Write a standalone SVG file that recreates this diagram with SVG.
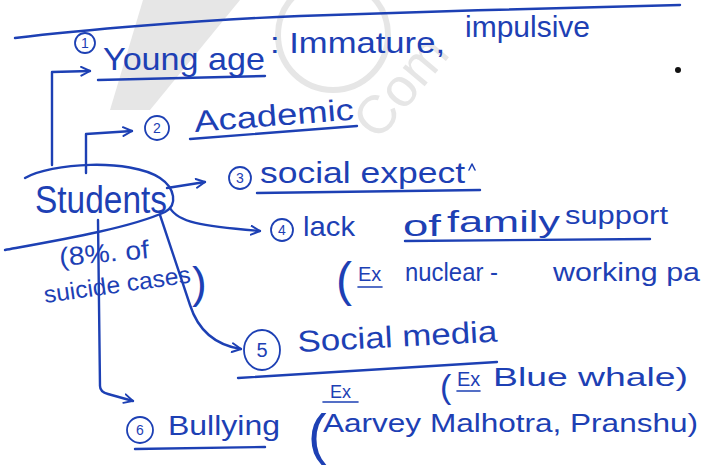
<svg xmlns="http://www.w3.org/2000/svg" width="703" height="466" viewBox="0 0 703 466">
<style>
.ink{fill:none;stroke:#1d40b4;stroke-width:2.4;stroke-linecap:round;stroke-linejoin:round}
.t{font-family:"Liberation Sans",Arial,sans-serif;fill:#1d40b4;font-size:28px}
.n{font-family:"Liberation Sans",Arial,sans-serif;fill:#1d40b4;font-size:14px;text-anchor:middle}
.wm{fill:#e6e6e6}
.wms{fill:none;stroke:#e6e6e6;stroke-width:6}
</style>
<defs>
<marker id="ah" viewBox="0 0 10 10" refX="9" refY="5" markerWidth="11" markerHeight="11" markerUnits="userSpaceOnUse" orient="auto">
<path d="M1,1 L9,5 L1,9" fill="none" stroke="#1d40b4" stroke-width="1.8" stroke-linecap="round"/>
</marker>
</defs>
<rect width="703" height="466" fill="#ffffff"/>
<g id="watermark">
<polygon class="wm" points="143,0 240,0 150,110 110,110"/>
<circle class="wms" cx="333" cy="35" r="55"/>
<text x="378" y="142" transform="rotate(-50 378 142)" style="font-family:'Liberation Sans',Arial,sans-serif;font-size:54px;fill:#e6e6e6">Com</text>
</g>
<g id="top-line">
<path class="ink" d="M15,38 C80,30 200,20 300,16 S600,7 680,5"/>
<circle cx="678" cy="70" r="3" fill="#111"/>
</g>
<g id="connectors">
<path class="ink" d="M52,165 L52,72 L90,71" marker-end="url(#ah)"/>
<path class="ink" d="M86,173 L86,134 L132,131" marker-end="url(#ah)"/>
<path class="ink" d="M167,188 L205,182" marker-end="url(#ah)"/>
<path class="ink" d="M170,208 C178,222 200,226 260,231" marker-end="url(#ah)"/>
<path class="ink" d="M160,215 L190,305 C198,330 215,345 241,349" marker-end="url(#ah)"/>
<path class="ink" d="M98,220 L100,386 Q100,392 108,394 L133,401" marker-end="url(#ah)"/>
</g>
<g id="students">
<path class="ink" d="M25,178 C50,163 130,158 160,178 C175,188 178,205 165,212 C130,228 60,240 5,250"/>
<text class="t" x="35" y="213" style="font-size:38px" textLength="132" lengthAdjust="spacingAndGlyphs">Students</text>
<text class="t" x="60" y="266" transform="rotate(-5 60 266)" style="font-size:26px" textLength="90" lengthAdjust="spacingAndGlyphs">(8%. of</text>
<text class="t" x="45" y="303" transform="rotate(-8 45 303)" style="font-size:24px" textLength="148" lengthAdjust="spacingAndGlyphs">suicide cases</text>
<text class="t" x="192" y="298" style="font-size:44px">)</text>
</g>
<g id="n1">
<circle class="ink" cx="85" cy="43" r="10" style="stroke-width:1.8"/>
<text class="n" x="85" y="48">1</text>
<text class="t" x="103" y="70" style="font-size:32px" textLength="162" lengthAdjust="spacingAndGlyphs">Young age</text>
<path class="ink" d="M98,80 L265,76"/>
<text class="t" x="270" y="53" style="font-size:30px" textLength="175" lengthAdjust="spacingAndGlyphs">: Immature,</text>
<text class="t" x="465" y="37" style="font-size:30px" textLength="125" lengthAdjust="spacingAndGlyphs">impulsive</text>
</g>
<g id="n2">
<circle class="ink" cx="157" cy="128" r="12" style="stroke-width:1.8"/>
<text class="n" x="157" y="133">2</text>
<text class="t" x="195" y="132" transform="rotate(-4.5 195 132)" style="font-size:30px" textLength="160" lengthAdjust="spacingAndGlyphs">Academic</text>
<path class="ink" d="M190,139 L357,126"/>
</g>
<g id="n3">
<circle class="ink" cx="240" cy="178" r="11" style="stroke-width:1.8"/>
<text class="n" x="240" y="183">3</text>
<text class="t" x="260" y="183" style="font-size:30px" textLength="205" lengthAdjust="spacingAndGlyphs">social expect</text>
<path class="ink" d="M469,170 L472,164 L475,170" style="stroke-width:1.6"/>
<path class="ink" d="M257,193 L480,190"/>
</g>
<g id="n4">
<circle class="ink" cx="282" cy="230" r="11" style="stroke-width:1.8"/>
<text class="n" x="282" y="235">4</text>
<text class="t" x="303" y="236" style="font-size:28px" textLength="52" lengthAdjust="spacingAndGlyphs">lack</text>
<text class="t" x="403" y="236" style="font-size:30px" textLength="38" lengthAdjust="spacingAndGlyphs">of</text>
<text class="t" x="447" y="232" style="font-size:30px" textLength="113" lengthAdjust="spacingAndGlyphs">family</text>
<text class="t" x="565" y="224" style="font-size:26px" textLength="103" lengthAdjust="spacingAndGlyphs">support</text>
<path class="ink" d="M405,241 L650,239"/>
<text class="t" x="336" y="296" style="font-size:48px">(</text>
<text class="t" x="358" y="281" style="font-size:20px">Ex</text>
<path class="ink" d="M358,287 L382,287" style="stroke-width:1.6"/>
<text class="t" x="405" y="281" style="font-size:26px" textLength="93" lengthAdjust="spacingAndGlyphs">nuclear -</text>
<text class="t" x="553" y="281" style="font-size:26px" textLength="147" lengthAdjust="spacingAndGlyphs">working pa</text>
</g>
<g id="n5">
<ellipse class="ink" cx="262" cy="350" rx="18" ry="20" style="stroke-width:1.8"/>
<text class="n" x="262" y="357" style="font-size:20px">5</text>
<text class="t" x="298" y="352" transform="rotate(-3 298 352)" style="font-size:30px" textLength="200" lengthAdjust="spacingAndGlyphs">Social media</text>
<path class="ink" d="M238,378 L497,362"/>
<text class="t" x="440" y="398" style="font-size:34px">(</text>
<text class="t" x="457" y="386" style="font-size:20px">Ex</text>
<path class="ink" d="M457,391 L480,391" style="stroke-width:1.6"/>
<text class="t" x="493" y="386" style="font-size:26px" textLength="195" lengthAdjust="spacingAndGlyphs">Blue whale)</text>
</g>
<g id="n6">
<circle class="ink" cx="140" cy="430" r="13" style="stroke-width:1.8"/>
<text class="n" x="140" y="435">6</text>
<text class="t" x="168" y="435" style="font-size:28px" textLength="112" lengthAdjust="spacingAndGlyphs">Bullying</text>
<path class="ink" d="M135,449 L265,447"/>
<text class="t" x="330" y="398" style="font-size:18px">Ex</text>
<path class="ink" d="M323,402 L358,402" style="stroke-width:1.6"/>
<text class="t" x="308" y="453" style="font-size:56px">(</text>
<text class="t" x="323" y="432" style="font-size:26px" textLength="375" lengthAdjust="spacingAndGlyphs">Aarvey Malhotra, Pranshu)</text>
</g>
</svg>
